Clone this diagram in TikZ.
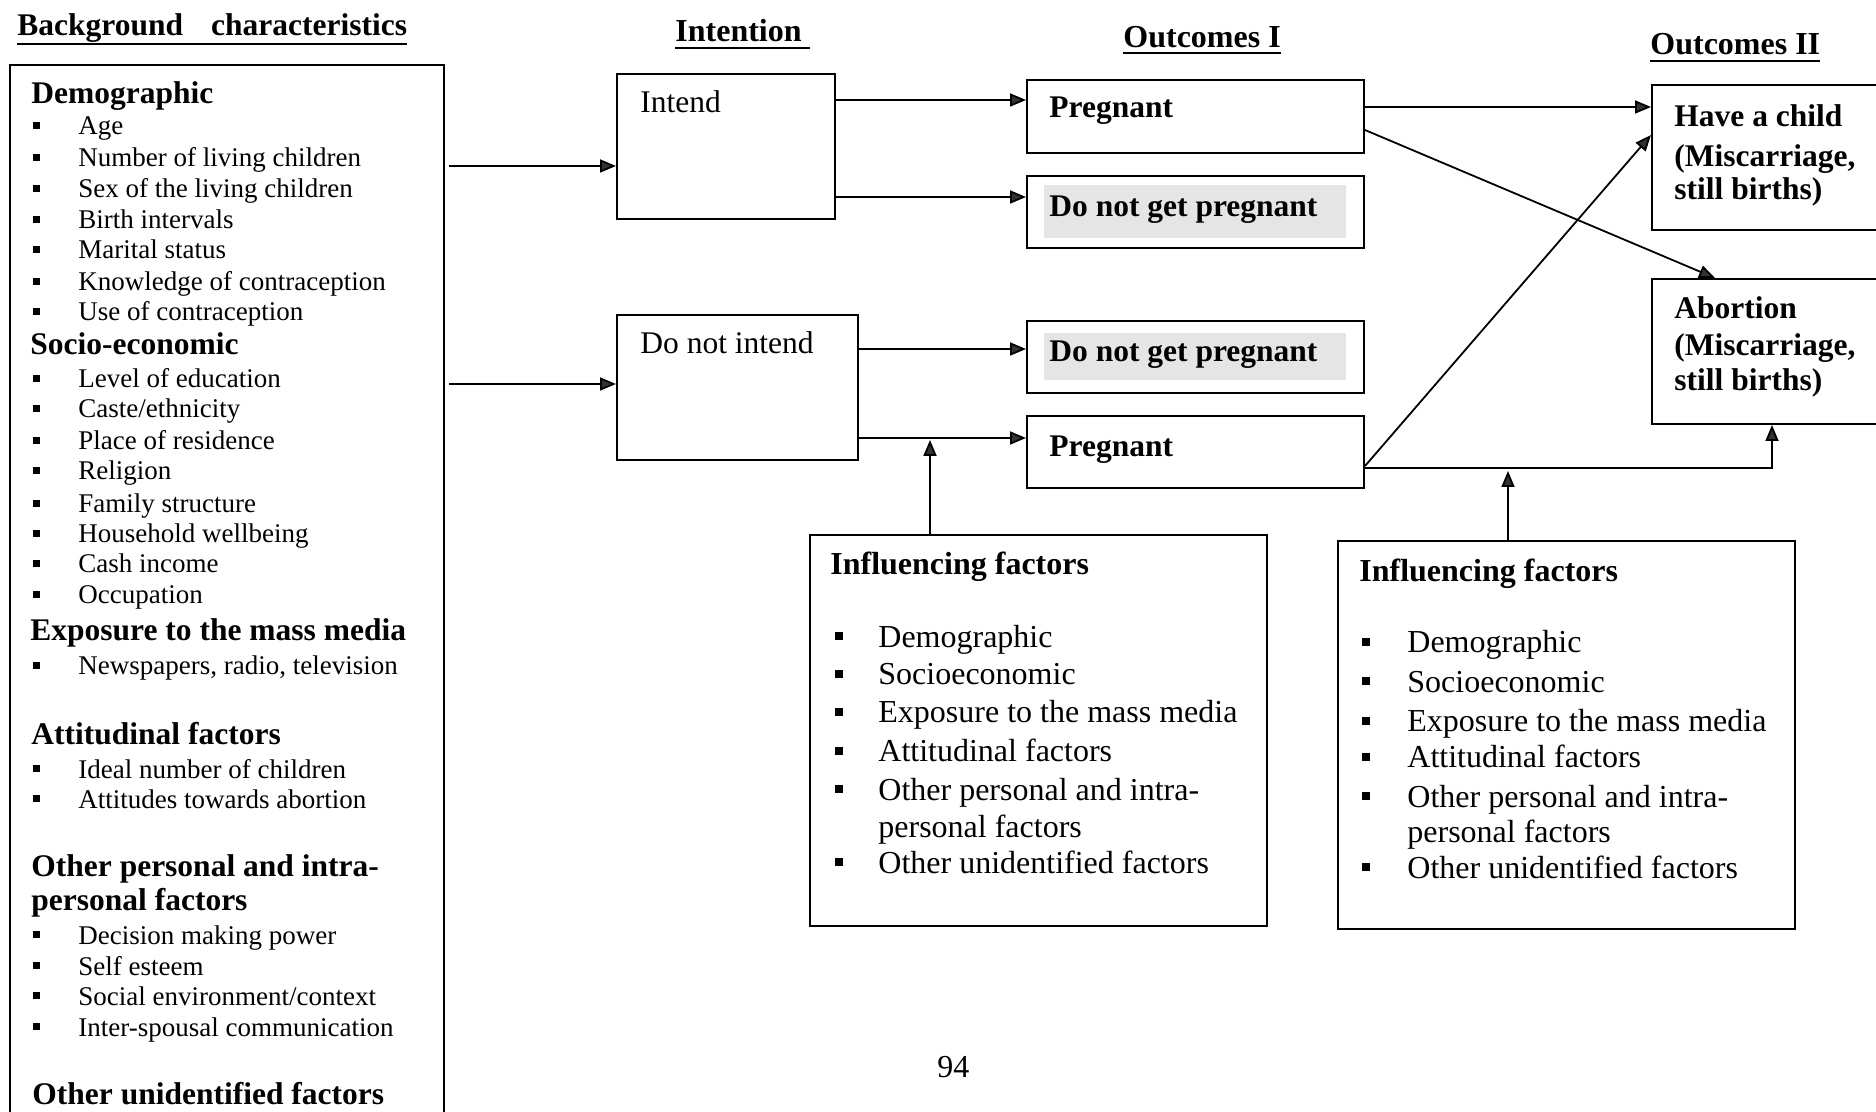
\documentclass[tikz,border=0pt]{standalone}
\usepackage{fontspec}
\setmainfont{Liberation Serif}
\usetikzlibrary{arrows.meta,fit}
\newcommand\fsL{\fontsize{13.5}{16}\selectfont}
\newcommand\fsH{\fontsize{15.75}{18}\selectfont\bfseries}
\newcommand\fsM{\fontsize{15.75}{18}\selectfont}
\newcommand\fsMB{\fontsize{15.75}{18}\selectfont\bfseries}
\newcommand\fsI{\fontsize{16}{19}\selectfont}
\newcommand\fsT{\fontsize{16}{19}\selectfont\bfseries}
\newcommand\ulbox[2]{\setbox0\hbox{#1}\rlap{\rule[-#2]{\wd0}{1pt}}\box0}
\newcounter{ln}
\newcommand\lhead[3]{\stepcounter{ln}\node[txt,font=\fsH] (L\theln) at (#1,#2) {#3};}
\newcommand\litem[2]{\stepcounter{ln}\fill (33,#1-13) rectangle (40,#1-6);\node[txt,font=\fsL] (L\theln) at (78,#1) {#2};}
\newcommand\iitem[4]{\stepcounter{ln}\fill (#1,#3-15) rectangle (#1+8,#3-7);\node[txt,font=\fsI] (L\theln) at (#2,#3) {#4};}
\begin{document}
\begin{tikzpicture}[x=0.5pt,y=-0.5pt,
  txt/.style={anchor=base west,inner sep=0pt},
  box/.style={draw,line width=1pt,inner sep=0pt},
  arr/.style={line width=0.9pt,-{Triangle[length=8pt,width=6.5pt,fill=black!80]}},
  con/.style={line width=0.9pt}]
\useasboundingbox (0,0) rectangle (1876,1112);
\clip (0,0) rectangle (1876,1112);

% titles
\node[txt,font=\fsH] (tbg) at (17,36) {\ulbox{Background\hspace{14pt}characteristics}{4.5pt}};
\node[txt,font=\fsT] (tint) at (675,42) {\ulbox{Intention\ }{3.5pt}};
\node[txt,font=\fsT] (to1) at (1123,48) {\ulbox{Outcomes I}{3pt}};
\node[txt,font=\fsT] (to2) at (1650,55) {\ulbox{Outcomes II}{3.5pt}};

% left box
\node[box,fit={(10,65) (444,1140)}] (bg) {};
\lhead{31}{104}{Demographic}
\litem{135}{Age}
\litem{167}{Number of living children}
\litem{198}{Sex of the living children}
\litem{229}{Birth intervals}
\litem{259}{Marital status}
\litem{291}{Knowledge of contraception}
\litem{321}{Use of contraception}
\lhead{30}{355}{Socio-economic}
\litem{388}{Level of education}
\litem{418}{Caste/ethnicity}
\litem{450}{Place of residence}
\litem{480}{Religion}
\litem{513}{Family structure}
\litem{543}{Household wellbeing}
\litem{573}{Cash income}
\litem{604}{Occupation}
\lhead{30}{640}{Exposure to the mass media}
\litem{675}{Newspapers, radio, television}
\lhead{31}{744}{Attitudinal factors}
\litem{778}{Ideal number of children}
\litem{808}{Attitudes towards abortion}
\lhead{31}{876}{Other personal and intra-}
\lhead{31}{910}{personal factors}
\litem{944}{Decision making power}
\litem{975}{Self esteem}
\litem{1005}{Social environment/context}
\litem{1036}{Inter-spousal communication}
\lhead{32}{1104}{Other unidentified factors}

% intention boxes
\node[box,fit={(617,74) (835,219)}] (intend) {};
\node[txt,font=\fsM] (tintend) at (640,113) {Intend};
\node[box,fit={(617,315) (858,460)}] (dni) {};
\node[txt,font=\fsM] (tdni) at (640,354) {Do not intend};

% outcomes I
\node[box,fit={(1027,80) (1364,153)}] (preg1) {};
\node[txt,font=\fsMB] (tpreg1) at (1049,118) {Pregnant};
\node[box,fit={(1027,176) (1364,248)}] (dngp1) {};
\fill[gray!20] (1044,185) rectangle (1346,238);
\node[txt,font=\fsMB] (tdngp1) at (1049,217) {Do not get pregnant};
\node[box,fit={(1027,321) (1364,393)}] (dngp2) {};
\fill[gray!20] (1044,333) rectangle (1346,380);
\node[txt,font=\fsMB] (tdngp2) at (1049,362) {Do not get pregnant};
\node[box,fit={(1027,416) (1364,488)}] (preg2) {};
\node[txt,font=\fsMB] (tpreg2) at (1049,457) {Pregnant};

% outcomes II
\node[box,fit={(1652,85) (1920,230)}] (child) {};
\node[txt,font=\fsMB] (tc1) at (1674,127) {Have a child};
\node[txt,font=\fsMB] (tc2) at (1674,167) {(Miscarriage,};
\node[txt,font=\fsMB] (tc3) at (1674,200) {still births)};
\node[box,fit={(1652,279) (1920,424)}] (abort) {};
\node[txt,font=\fsMB] (ta1) at (1674,319) {Abortion};
\node[txt,font=\fsMB] (ta2) at (1674,356) {(Miscarriage,};
\node[txt,font=\fsMB] (ta3) at (1674,391) {still births)};

% influencing factors 1
\node[box,fit={(810,535) (1267,926)}] (inf1) {};
\node[txt,font=\fsT] (ti1) at (830,575) {Influencing factors};
\iitem{835}{878}{647}{Demographic}
\iitem{835}{878}{685}{Socioeconomic}
\iitem{835}{878}{723}{Exposure to the mass media}
\iitem{835}{878}{762}{Attitudinal factors}
\iitem{835}{878}{800}{Other personal and intra-}
\node[txt,font=\fsI] (ti1b) at (878,837) {personal factors};
\iitem{835}{878}{873}{Other unidentified factors}

% influencing factors 2
\node[box,fit={(1338,541) (1795,929)}] (inf2) {};
\node[txt,font=\fsT] (ti2) at (1359,582) {Influencing factors};
\iitem{1362}{1407}{653}{Demographic}
\iitem{1362}{1407}{692}{Socioeconomic}
\iitem{1362}{1407}{732}{Exposure to the mass media}
\iitem{1362}{1407}{768}{Attitudinal factors}
\iitem{1362}{1407}{807}{Other personal and intra-}
\node[txt,font=\fsI] (ti2b) at (1407,842) {personal factors};
\iitem{1362}{1407}{878}{Other unidentified factors}

\node[txt,font=\fsI] (pg) at (937,1077) {94};

% connectors
\coordinate (s1) at (449,166);
\coordinate (s2) at (449,384);
\draw[arr] (s1) -- (s1 -| intend.west);
\draw[arr] (s2) -- (s2 -| dni.west);
\coordinate (y100) at (0,100);
\coordinate (y197) at (0,197);
\coordinate (y349) at (0,349);
\coordinate (y438) at (0,438);
\draw[arr] (y100 -| intend.east) -- (y100 -| preg1.west);
\draw[arr] (y197 -| intend.east) -- (y197 -| dngp1.west);
\draw[arr] (y349 -| dni.east) -- (y349 -| dngp2.west);
\draw[arr] (y438 -| dni.east) -- (y438 -| preg2.west);
\coordinate (y107) at (0,107);
\draw[arr] (y107 -| preg1.east) -- (y107 -| child.west);
\coordinate (p1d) at (0,130);
\coordinate (abx) at (1715,0);
\draw[arr] (p1d -| preg1.east) -- (abx |- abort.north);
\coordinate (p2d) at (0,466);
\coordinate (chy) at (0,135);
\draw[arr] (p2d -| preg2.east) -- (chy -| child.west);
\coordinate (j2) at (1772,468);
\draw[arr] (j2 -| preg2.east) -- (j2) -- (j2 |- abort.south);
\coordinate (u1) at (930,440);
\draw[arr] (u1 |- inf1.north) -- (u1);
\coordinate (u2) at (1508,471);
\draw[arr] (u2 |- inf2.north) -- (u2);
\end{tikzpicture}
\end{document}
